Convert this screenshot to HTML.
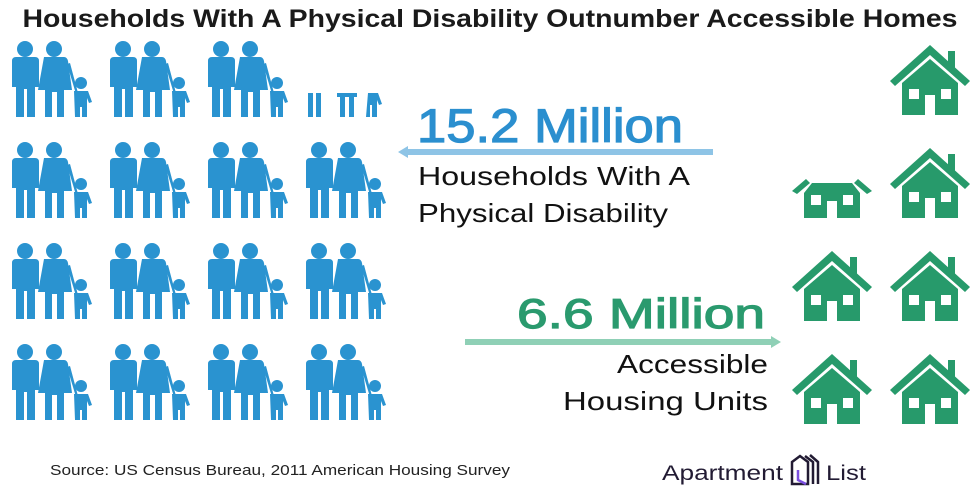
<!DOCTYPE html>
<html><head><meta charset="utf-8"><style>
html,body{margin:0;padding:0;background:#fff;}
svg{display:block;font-family:"Liberation Sans",sans-serif;}
</style></head><body>
<svg width="980" height="498" viewBox="0 0 980 498">
<defs>
<g id="family">
 <circle cx="19" cy="7" r="8"/>
 <path d="M6 19 Q6 15 10 15 L29 15 Q33 15 33 19 L33 45 L29 45 L29 75 L21 75 L21 47 L18 47 L18 75 L10 75 L10 45 L6 45 Z"/>
 <circle cx="48" cy="7" r="8"/>
 <path d="M38 15 L58 15 Q61 15 62 19 L66 48 L58 48 L58 75 L51 75 L51 50 L46 50 L46 75 L39 75 L39 48 L32 48 Z"/>
 <path d="M61 22 L70 52 L72 51 L64 21 Z"/>
 <circle cx="75" cy="41" r="6"/>
 <path d="M68 49 L82 49 L86 60 L83 61 L81 56 L81 75 L76 75 L76 65 L74 65 L74 75 L69 75 Z"/>
</g>
<g id="house">
 <path d="M0 36 L40 0 L80 36 L75 41 L40 10 L5 41 Z"/>
 <rect x="58" y="6" width="7" height="18"/>
 <path d="M12 38 L40 14 L68 38 L68 70 L45 70 L45 50 L35 50 L35 70 L12 70 Z"/>
 <rect x="19" y="44" width="10" height="10" fill="#fff"/>
 <rect x="51" y="44" width="10" height="10" fill="#fff"/>
</g>
<g id="smallhouse">
 <path d="M0 18 L14 6 L18 10 L5 21 Z"/>
 <path d="M80 18 L66 6 L62 10 L75 21 Z"/>
 <path d="M12 20 L20 10 L60 10 L68 20 L68 45 L45 45 L45 28 L35 28 L35 45 L12 45 Z"/>
 <rect x="19" y="22" width="10" height="10" fill="#fff"/>
 <rect x="51" y="22" width="10" height="10" fill="#fff"/>
</g>
</defs>

<text x="490" y="27" text-anchor="middle" font-size="25" font-weight="bold" fill="#1a1a1a" textLength="935" lengthAdjust="spacingAndGlyphs">Households With A Physical Disability Outnumber Accessible Homes</text>

<g id="families" fill="#2a93d0"></g>
<g fill="#2a93d0">
 <rect x="308" y="93" width="5" height="24"/><rect x="316" y="93" width="5" height="24"/>
 <rect x="337" y="93" width="20" height="4"/><rect x="340" y="93" width="5" height="24"/><rect x="349" y="93" width="5" height="24"/>
 <path d="M368 93 L378 93 L382 104 L379 105 L377 100 L377 117 L372 117 L372 105 L370 105 L370 117 L366 117 Z"/>
</g>

<g id="houses" fill="#279a6b"></g>

<text x="417" y="142" font-size="47" fill="#2b8fcf" stroke="#2b8fcf" stroke-width="1.2" textLength="266" lengthAdjust="spacingAndGlyphs">15.2 Million</text>
<g>
 <rect x="405" y="149" width="308" height="6" fill="#8ec4e6"/>
 <path d="M398 152 L408 146 L408 158 Z" fill="#8ec4e6"/>
</g>
<text x="418" y="185" font-size="26" fill="#111" textLength="272" lengthAdjust="spacingAndGlyphs">Households With A</text>
<text x="418" y="222" font-size="26" fill="#111" textLength="250" lengthAdjust="spacingAndGlyphs">Physical Disability</text>

<text x="517" y="328" font-size="42" fill="#2a9a6e" stroke="#2a9a6e" stroke-width="1.2" textLength="248" lengthAdjust="spacingAndGlyphs">6.6 Million</text>
<g>
 <rect x="465" y="339" width="308" height="6" fill="#8fd0b6"/>
 <path d="M781 342 L771 336 L771 348 Z" fill="#8fd0b6"/>
</g>
<text x="768" y="373" text-anchor="end" font-size="26" fill="#111" textLength="151" lengthAdjust="spacingAndGlyphs">Accessible</text>
<text x="768" y="410" text-anchor="end" font-size="26" fill="#111" textLength="205" lengthAdjust="spacingAndGlyphs">Housing Units</text>

<text x="50" y="475" font-size="15" fill="#222" textLength="460" lengthAdjust="spacingAndGlyphs">Source: US Census Bureau, 2011 American Housing Survey</text>

<g>
 <text x="662" y="480" font-size="21" fill="#221b33" textLength="121" lengthAdjust="spacingAndGlyphs">Apartment</text>
 <g fill="none" stroke-width="2.5">
  <path d="M792 484 L792 462 L800 456 L808 462 L808 484 Z" stroke="#221b33"/>
  <path d="M798 470 L798 480 L806 484" stroke="#7b4fe0"/>
  <path d="M805 456 L813 462 L813 484" stroke="#221b33"/>
  <path d="M810 455 L818 462 L818 484" stroke="#221b33"/>
 </g>
 <text x="826" y="480" font-size="21" fill="#221b33" textLength="40" lengthAdjust="spacingAndGlyphs">List</text>
</g>
</svg>
<script>
const familyRows = [0, 1, 2, 3];
const familyCols = [0, 1, 2, 3];
const fullFamilies = 15;
const houseSlots = [[1,0,'big'],[0,1,'small'],[1,1,'big'],[0,2,'big'],[1,2,'big'],[0,3,'big'],[1,3,'big']];
const NS = 'http://www.w3.org/2000/svg';
const fg = document.getElementById('families');
let n = 0;
familyRows.forEach(r => familyCols.forEach(c => {
  if (r === 0 && c === 3) return;
  if (n >= fullFamilies) return;
  n++;
  const u = document.createElementNS(NS, 'use');
  u.setAttribute('href', '#family');
  u.setAttribute('transform', `translate(${6 + c * 98},${42 + r * 101})`);
  
  
  fg.appendChild(u);
}));
const hg = document.getElementById('houses');
houseSlots.forEach(([c, r, t]) => {
  const u = document.createElementNS(NS, 'use');
  u.setAttribute('href', t === 'big' ? '#house' : '#smallhouse');
  const y = t === 'big' ? 45 + r * 103 : 173;
  u.setAttribute('transform', `translate(${792 + c * 98},${y})`);
  
  
  hg.appendChild(u);
});
</script>
</body></html>
